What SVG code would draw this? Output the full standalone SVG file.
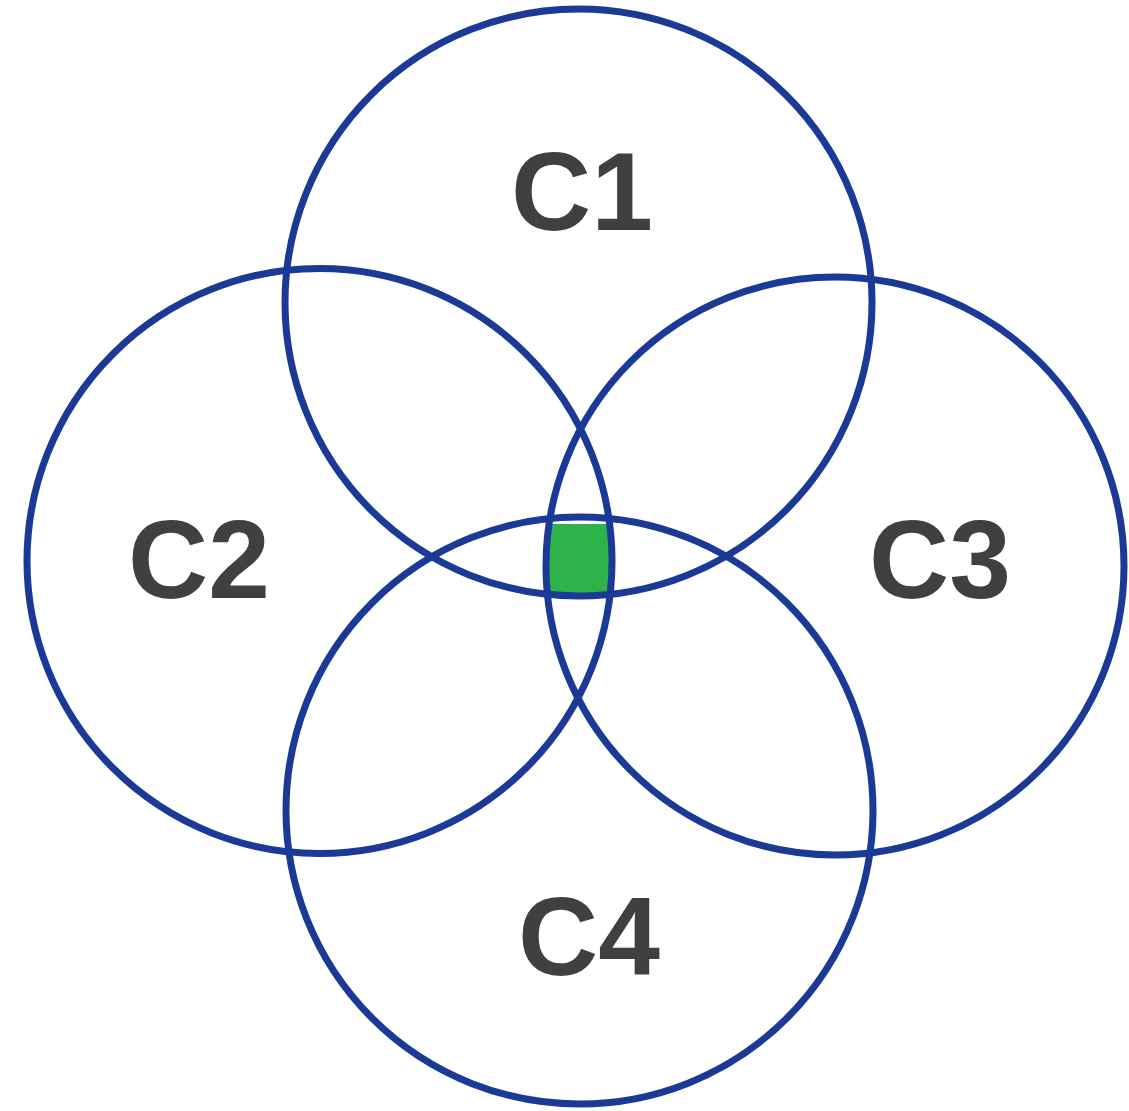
<svg xmlns="http://www.w3.org/2000/svg" width="1129" height="1111" viewBox="0 0 1129 1111">
<style>
.c{fill:none;stroke:#1a3a96;stroke-width:7}
.t{font-family:"Liberation Sans",Arial,sans-serif;font-weight:bold;font-size:111px;fill:#404040;text-anchor:middle}
</style>
<rect width="1129" height="1111" fill="#fff"/>
<g id="connectors"></g>
<g id="center"><rect x="549" y="524" width="62" height="69" fill="#2db34a"/></g>
<g id="c1"><circle class="c" cx="578.5" cy="302.5" r="293.5"/><text class="t" x="582" y="230">C1</text></g>
<g id="c2"><circle class="c" cx="319.5" cy="561" r="292.5"/><text class="t" x="199" y="598">C2</text></g>
<g id="c3"><circle class="c" cx="835" cy="566" r="289"/><text class="t" x="940" y="598">C3</text></g>
<g id="c4"><circle class="c" cx="579.5" cy="810.5" r="293.5"/><text class="t" x="589" y="975">C4</text></g>
</svg>
